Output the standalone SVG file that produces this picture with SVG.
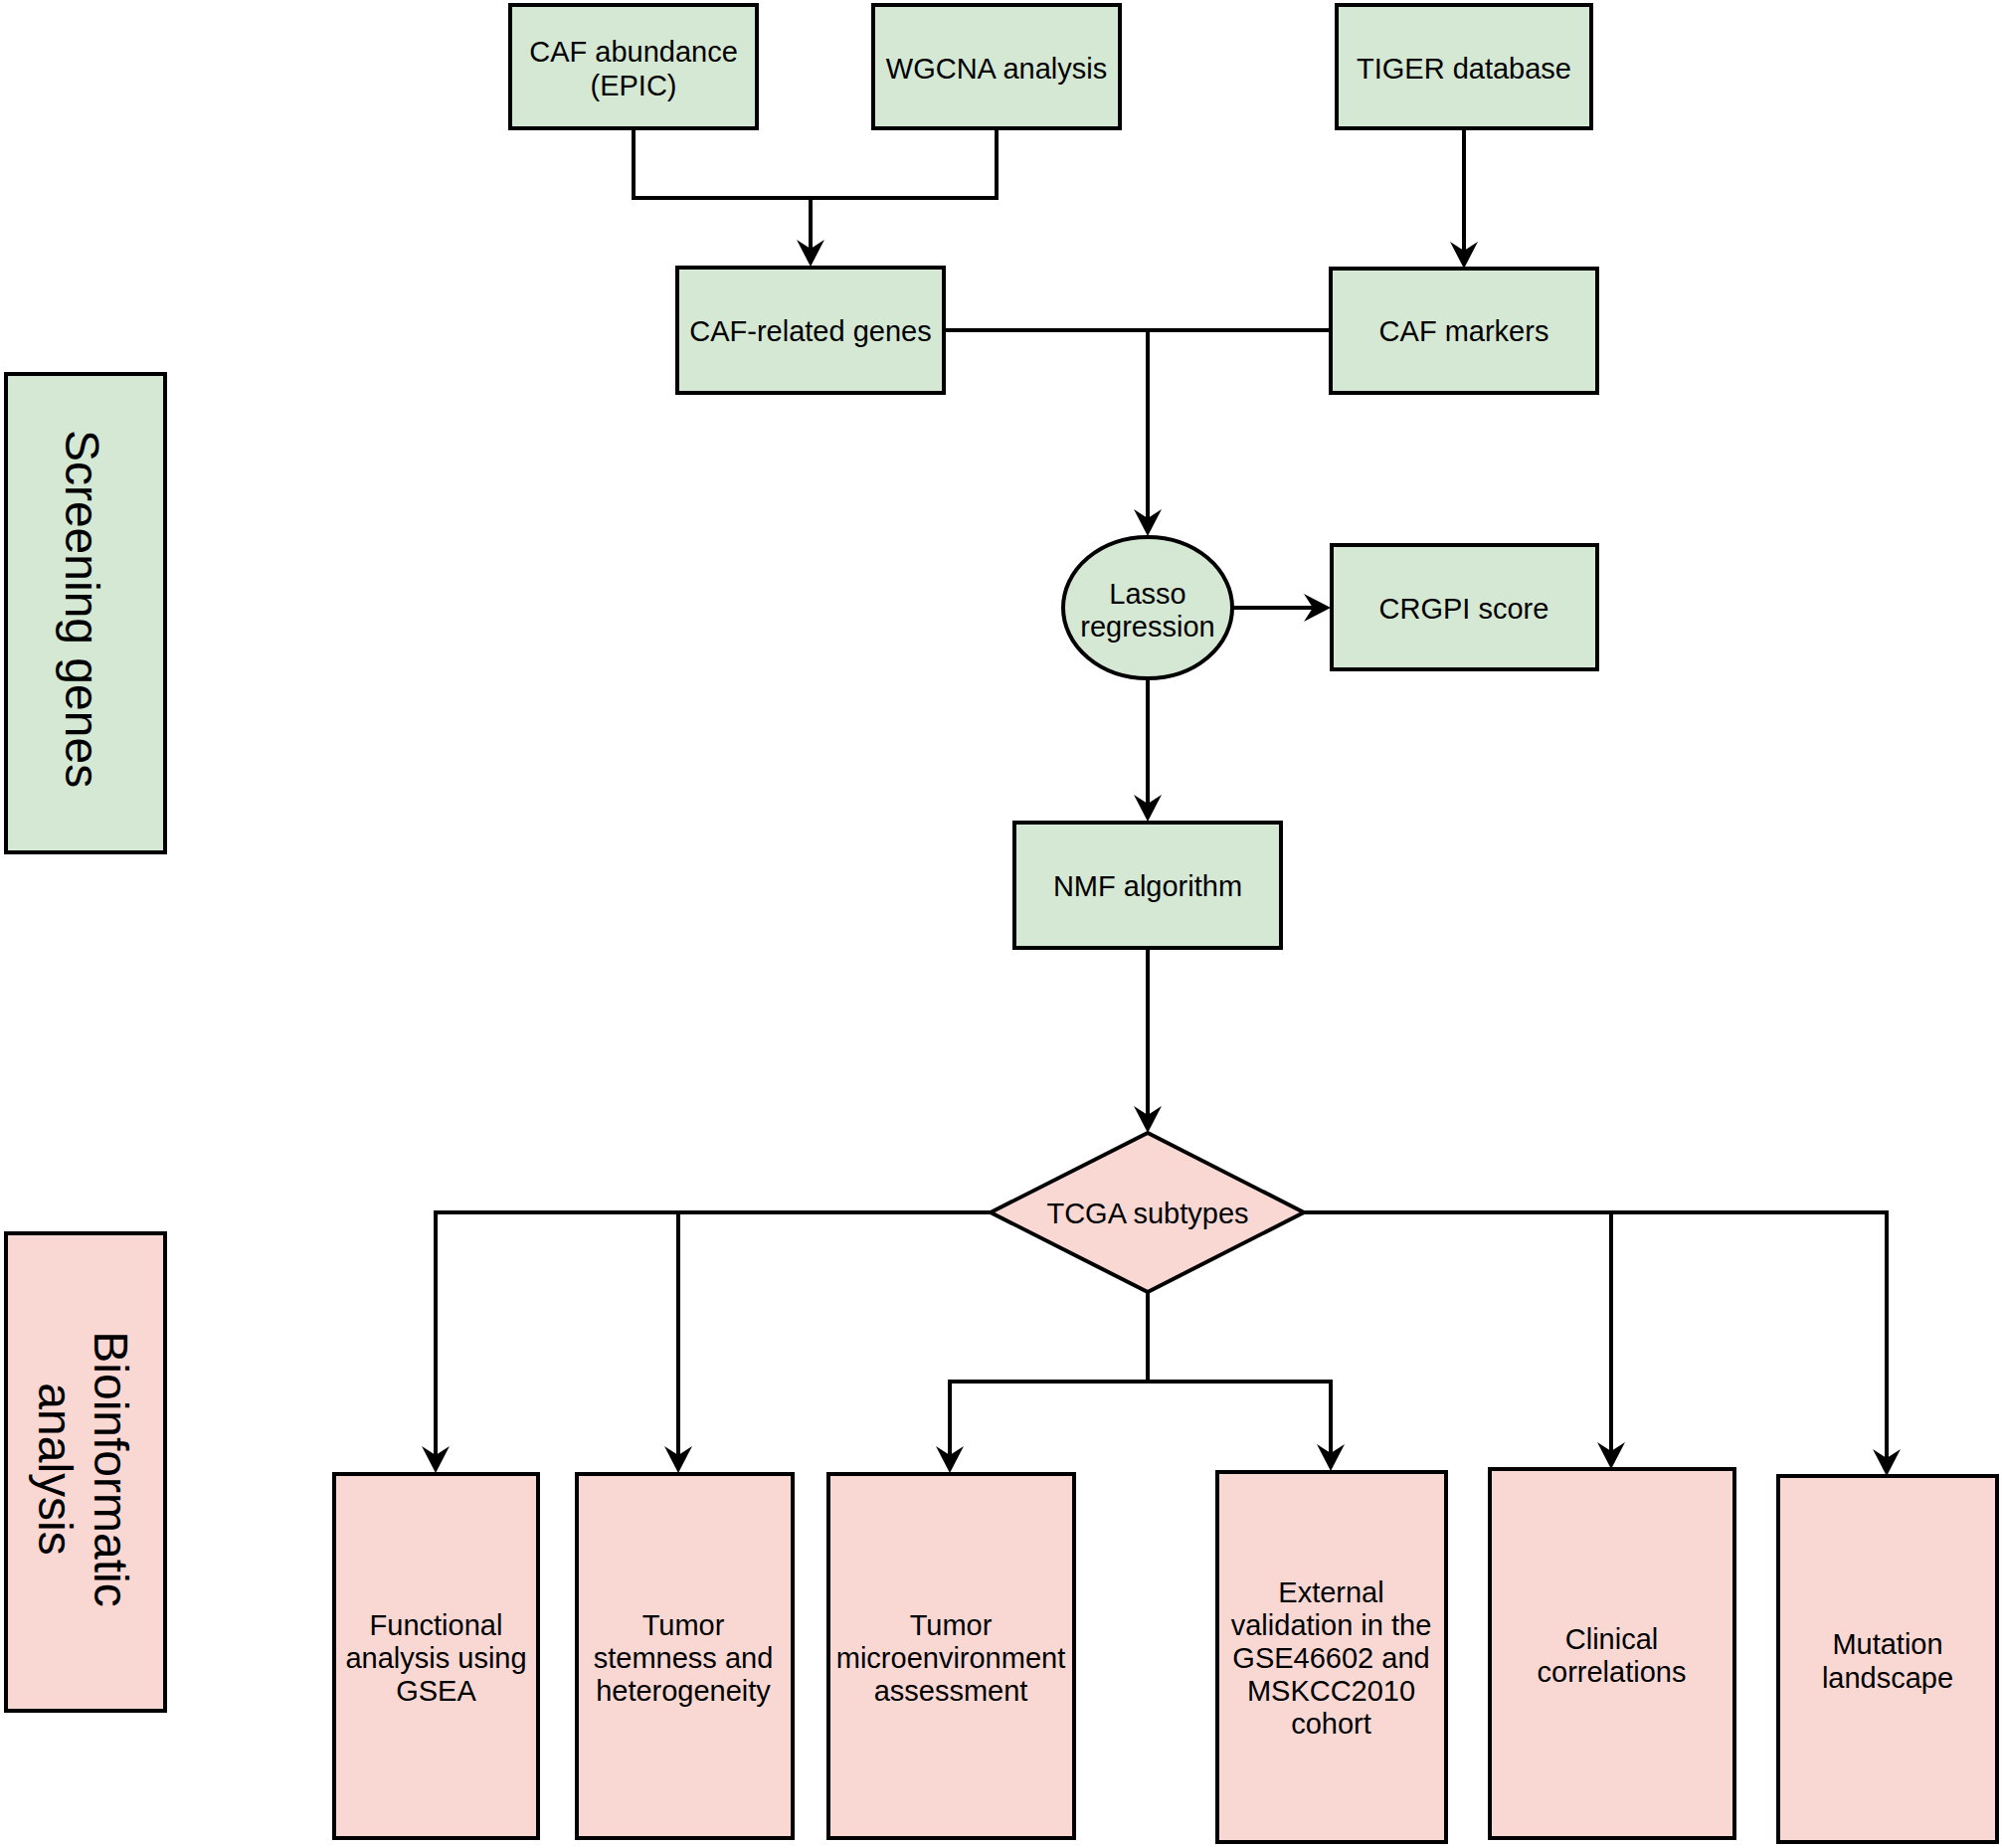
<svg xmlns="http://www.w3.org/2000/svg" width="2013" height="1858" viewBox="0 0 2013 1858">
<style>
.g{fill:#d5e8d4;stroke:#000;stroke-width:4}
.p{fill:#f9d8d4;stroke:#000;stroke-width:4}
.t{font-family:"Liberation Sans",Arial,sans-serif;font-size:29px;fill:#000;text-anchor:middle}
.v{font-family:"Liberation Sans",Arial,sans-serif;font-size:48px;fill:#000;text-anchor:middle}
.c{fill:none;stroke:#000;stroke-width:4}
.a{fill:none;stroke:#000;stroke-width:4;marker-end:url(#arr)}
</style>
<defs>
<marker id="arr" viewBox="-30 -16 32 32" markerWidth="32" markerHeight="32" refX="-8" refY="0" orient="auto" markerUnits="userSpaceOnUse">
<path d="M0,0 L-27,-14 L-18,0 L-27,14 Z" fill="#000"/>
</marker>
</defs>
<rect width="2013" height="1858" fill="#fff"/>
<g id="connectors">
<path class="c" d="M637,130 V199 H1002 V130"/>
<path class="a" d="M815,199 V260"/>
<path class="a" d="M1472,130 V262"/>
<path class="c" d="M950,332 H1337"/>
<path class="a" d="M1154,332 V531"/>
<path class="a" d="M1240,611 H1330"/>
<path class="a" d="M1154,683 V818"/>
<path class="a" d="M1154,954 V1131"/>
<path class="a" d="M996,1219 H438 V1473"/>
<path class="a" d="M682,1219 V1473"/>
<path class="a" d="M1311,1219 H1897 V1476"/>
<path class="a" d="M1620,1219 V1469"/>
<path class="c" d="M1154,1299 V1389"/>
<path class="a" d="M1154,1389 H955 V1473"/>
<path class="a" d="M1154,1389 H1338 V1471"/>
</g>
<g id="screening">
<rect class="g" x="6" y="376" width="160" height="481"/>
<text class="v" transform="translate(66,612) rotate(90)">Screening genes</text>
</g>
<g id="bioinformatic">
<rect class="p" x="6" y="1240" width="160" height="480"/>
<text class="v" transform="translate(95,1477) rotate(90)">Bioinformatic</text>
<text class="v" transform="translate(38.5,1477) rotate(90)">analysis</text>
</g>
<g id="caf-abundance">
<rect class="g" x="513" y="5" width="248" height="124"/>
<text class="t" x="637" y="62">CAF abundance</text>
<text class="t" x="637" y="96">(EPIC)</text>
</g>
<g id="wgcna">
<rect class="g" x="878" y="5" width="248" height="124"/>
<text class="t" x="1002" y="79">WGCNA analysis</text>
</g>
<g id="tiger">
<rect class="g" x="1344" y="5" width="256" height="124"/>
<text class="t" x="1472" y="79">TIGER database</text>
</g>
<g id="caf-related">
<rect class="g" x="681" y="269" width="268" height="126"/>
<text class="t" x="815" y="343">CAF-related genes</text>
</g>
<g id="caf-markers">
<rect class="g" x="1338" y="270" width="268" height="125"/>
<text class="t" x="1472" y="343">CAF markers</text>
</g>
<g id="lasso">
<ellipse class="g" cx="1154" cy="611" rx="85" ry="71"/>
<text class="t" x="1154" y="607">Lasso</text>
<text class="t" x="1154" y="640">regression</text>
</g>
<g id="crgpi">
<rect class="g" x="1339" y="548" width="267" height="125"/>
<text class="t" x="1472" y="622">CRGPI score</text>
</g>
<g id="nmf">
<rect class="g" x="1020" y="827" width="268" height="126"/>
<text class="t" x="1154" y="901">NMF algorithm</text>
</g>
<g id="tcga">
<polygon class="p" points="996,1219 1154,1139 1311,1219 1154,1299"/>
<text class="t" x="1154" y="1230">TCGA subtypes</text>
</g>
<g id="functional">
<rect class="p" x="336" y="1482" width="205" height="366"/>
<text class="t" x="438.5" y="1644">Functional</text>
<text class="t" x="438.5" y="1677">analysis using</text>
<text class="t" x="438.5" y="1710">GSEA</text>
</g>
<g id="stemness">
<rect class="p" x="580" y="1482" width="217" height="366"/>
<text class="t" x="687" y="1644">Tumor</text>
<text class="t" x="687" y="1677">stemness and</text>
<text class="t" x="687" y="1710">heterogeneity</text>
</g>
<g id="microenvironment">
<rect class="p" x="833" y="1482" width="247" height="366"/>
<text class="t" x="956" y="1644">Tumor</text>
<text class="t" x="956" y="1677">microenvironment</text>
<text class="t" x="956" y="1710">assessment</text>
</g>
<g id="external">
<rect class="p" x="1224" y="1480" width="230" height="372"/>
<text class="t" x="1338.5" y="1611">External</text>
<text class="t" x="1338.5" y="1644">validation in the</text>
<text class="t" x="1338.5" y="1677">GSE46602 and</text>
<text class="t" x="1338.5" y="1710">MSKCC2010</text>
<text class="t" x="1338.5" y="1743">cohort</text>
</g>
<g id="clinical">
<rect class="p" x="1498" y="1477" width="246" height="371"/>
<text class="t" x="1620.5" y="1658">Clinical</text>
<text class="t" x="1620.5" y="1691">correlations</text>
</g>
<g id="mutation">
<rect class="p" x="1788" y="1484" width="220" height="368"/>
<text class="t" x="1898" y="1663">Mutation</text>
<text class="t" x="1898" y="1697">landscape</text>
</g>
</svg>
